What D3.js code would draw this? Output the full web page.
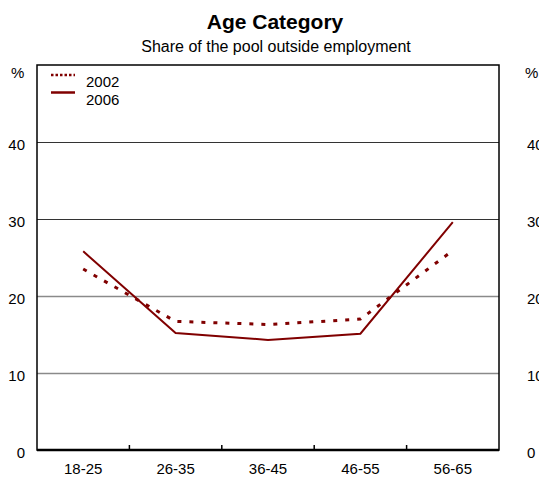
<!DOCTYPE html>
<html>
<head>
<meta charset="utf-8">
<script src="https://cdn.jsdelivr.net/npm/d3@7"></script>
<style>
  body { margin: 0; background: #fff; }
  svg text { font-family: "Liberation Sans", Arial, sans-serif; fill: #000; }
</style>
</head>
<body>
<svg id="chart" width="539" height="480"></svg>
<script>
// Age groups and share of the pool outside employment (%)
const categories = ["18-25", "26-35", "36-45", "46-55", "56-65"];
const values2002 = [23.5, 16.7, 16.3, 17.0, 25.9];
const values2006 = [25.8, 15.2, 14.3, 15.1, 29.6];
const yTicks = [0, 10, 20, 30, 40];

const svg = d3.select("#chart");
const m = { left: 37, right: 499, top: 65, bottom: 450 };
const red = "#800000";

const x = d3.scaleBand().domain(categories).range([m.left, m.right]);
const y = d3.scaleLinear().domain([0, 50]).range([m.bottom, m.top]);

// Title block
svg.append("text").attr("x", 275).attr("y", 29).attr("text-anchor", "middle")
  .style("font-size", "21px").style("font-weight", "bold").text("Age Category");
svg.append("text").attr("x", 276).attr("y", 52).attr("text-anchor", "middle")
  .style("font-size", "16px").text("Share of the pool outside employment");

// Horizontal gridlines (upper ones crisp and dark, lower ones softer)
svg.append("g").selectAll("line").data(yTicks.filter(d => d > 0)).join("line")
  .attr("x1", m.left).attr("x2", m.right)
  .attr("y1", d => Math.round(y(d)) + 0.5).attr("y2", d => Math.round(y(d)) + 0.5)
  .attr("stroke", d => d >= 30 ? "#333" : "#8a8a8a")
  .attr("stroke-width", d => d >= 30 ? 1 : 1.6);

// Left and right value axes (labels only)
const leftAxis = d3.axisLeft(y).tickValues(yTicks).tickSize(0).tickPadding(12);
const gl = svg.append("g").attr("transform", `translate(${m.left},0)`).call(leftAxis);
gl.select(".domain").remove();
gl.selectAll("text").style("font-size", "15px").attr("dy", "0.5em");

const rightAxis = d3.axisRight(y).tickValues(yTicks).tickSize(0).tickPadding(28);
const gr = svg.append("g").attr("transform", `translate(${m.right},0)`).call(rightAxis);
gr.select(".domain").remove();
gr.selectAll("text").style("font-size", "15px").attr("dy", "0.5em");

svg.append("text").attr("x", 11).attr("y", 78).style("font-size", "15px").text("%");
svg.append("text").attr("x", 525).attr("y", 78).style("font-size", "15px").text("%");

// Category axis with inward ticks at the group boundaries
const xAxis = d3.axisBottom(x).tickSize(0).tickPadding(13);
const gx = svg.append("g").attr("transform", `translate(0,${m.bottom})`).call(xAxis);
gx.select(".domain").remove();
gx.selectAll("text").style("font-size", "15px");
svg.append("g").selectAll("line").data(categories.slice(1)).join("line")
  .attr("x1", d => x(d)).attr("x2", d => x(d))
  .attr("y1", m.bottom).attr("y2", m.bottom - 5)
  .attr("stroke", "#000").attr("stroke-width", 1.5);

// Plot frame
svg.append("rect").attr("x", m.left).attr("y", m.top)
  .attr("width", m.right - m.left).attr("height", m.bottom - m.top)
  .attr("fill", "none").attr("stroke", "#000").attr("stroke-width", 1.5);
svg.append("line").attr("x1", m.left).attr("x2", m.right)
  .attr("y1", m.bottom).attr("y2", m.bottom).attr("stroke", "#000").attr("stroke-width", 2.5);

// Series lines
const line = d3.line()
  .x((d, i) => x(categories[i]) + x.bandwidth() / 2)
  .y(d => y(d));

svg.append("path").datum(values2002).attr("d", line)
  .attr("fill", "none").attr("stroke", red).attr("stroke-width", 3)
  .attr("stroke-dasharray", "4,8");
svg.append("path").datum(values2006).attr("d", line)
  .attr("fill", "none").attr("stroke", red).attr("stroke-width", 2);

// Legend
const legend = svg.append("g");
legend.append("line").attr("x1", 51).attr("x2", 75).attr("y1", 75).attr("y2", 75)
  .attr("stroke", red).attr("stroke-width", 2.5).attr("stroke-dasharray", "2.5,2");
legend.append("text").attr("x", 86).attr("y", 87).style("font-size", "15px").text("2002");
legend.append("line").attr("x1", 51).attr("x2", 75).attr("y1", 92.5).attr("y2", 92.5)
  .attr("stroke", red).attr("stroke-width", 2.5);
legend.append("text").attr("x", 86).attr("y", 104.5).style("font-size", "15px").text("2006");
</script>
</body>
</html>
